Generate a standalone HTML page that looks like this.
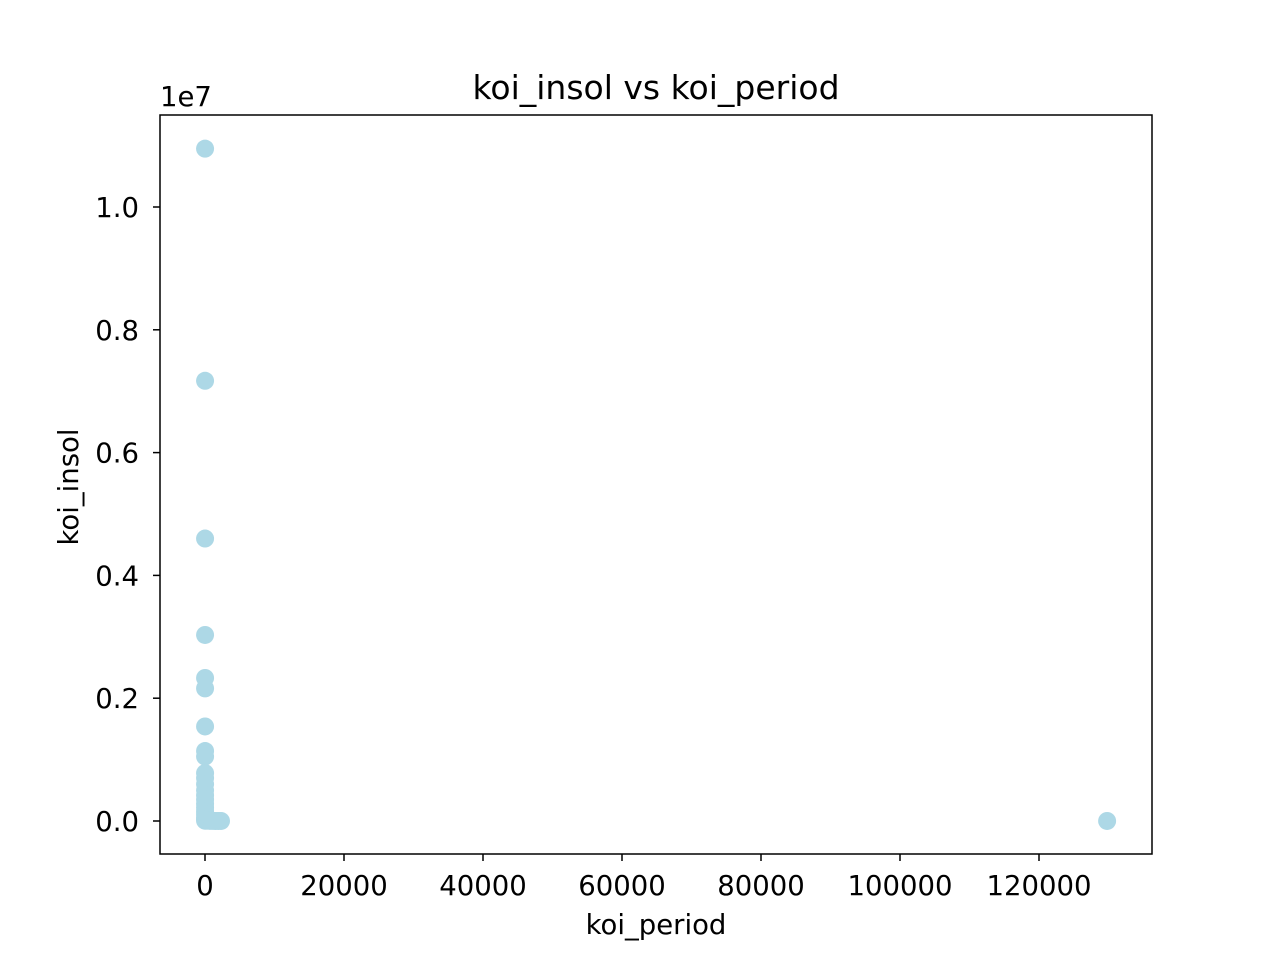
<!DOCTYPE html>
<html><head><meta charset="utf-8"><style>
body{margin:0;background:#fff;}
svg text{font-family:"DejaVu Sans","Liberation Sans",sans-serif;fill:#000;}
</style></head><body>
<svg width="1280" height="960" xmlns="http://www.w3.org/2000/svg">
<g id="pts"></g>
<rect x="160" y="115" width="992" height="739" fill="none" stroke="#000" stroke-width="1.5"/>
<g id="axes"></g>
<text x="656" y="99" font-size="33" text-anchor="middle">koi_insol vs koi_period</text>
<text x="656" y="934" font-size="27.5" text-anchor="middle">koi_period</text>
<text x="0" y="0" font-size="27.5" text-anchor="middle" transform="translate(78,487) rotate(-90)">koi_insol</text>
<text x="160" y="106" font-size="27.5">1e7</text>
</svg>
<script>
const periods = [10,10,10,10,10,10,10,10,10,10,10,10,10,10,10,10,10,10,10,10,10,10,300,700,1100,1500,1900,2300,129800];
const insols = [10950000,7170000,4600000,3030000,2330000,2160000,1540000,1140000,1050000,780000,700000,600000,500000,420000,350000,280000,220000,160000,110000,60000,30000,5000,5000,3000,2000,1000,500,300,500];
const xTicks = [0,20000,40000,60000,80000,100000,120000];
const yTicks = [0,0.2,0.4,0.6,0.8,1.0];
const xTickLabels = ["0","20000","40000","60000","80000","100000","120000"];
const yTickLabels = ["0.0","0.2","0.4","0.6","0.8","1.0"];
const X = v => 205 + v * 139/20000;
const Y = v => 821 - v * 614/1e7;
const ns = "http://www.w3.org/2000/svg";
const pts = document.getElementById('pts'), axes = document.getElementById('axes');
periods.forEach((p,i)=>{
  const c=document.createElementNS(ns,'circle');
  c.setAttribute('cx',X(p));c.setAttribute('cy',Y(insols[i]));c.setAttribute('r',9);c.setAttribute('fill','#add8e6');
  
  
  pts.appendChild(c);
});
xTicks.forEach((t,i)=>{
  const x=X(t);
  const l=document.createElementNS(ns,'line');
  l.setAttribute('x1',x);l.setAttribute('x2',x);l.setAttribute('y1',854);l.setAttribute('y2',861);l.setAttribute('stroke','#000');l.setAttribute('stroke-width','1.5');
  
  
  axes.appendChild(l);
  const tx=document.createElementNS(ns,'text');
  tx.setAttribute('x',x);tx.setAttribute('y',895);tx.setAttribute('font-size','27.5');tx.setAttribute('text-anchor','middle');
  tx.textContent=xTickLabels[i];
  
  
  axes.appendChild(tx);
});
yTicks.forEach((t,i)=>{
  const y=Y(t*1e7);
  const l=document.createElementNS(ns,'line');
  l.setAttribute('x1',153);l.setAttribute('x2',160);l.setAttribute('y1',y);l.setAttribute('y2',y);l.setAttribute('stroke','#000');l.setAttribute('stroke-width','1.5');
  
  
  axes.appendChild(l);
  const tx=document.createElementNS(ns,'text');
  tx.setAttribute('x',139);tx.setAttribute('y',y+10);tx.setAttribute('font-size','27.5');tx.setAttribute('text-anchor','end');
  tx.textContent=yTickLabels[i];
  
  
  axes.appendChild(tx);
});
</script>
</body></html>
